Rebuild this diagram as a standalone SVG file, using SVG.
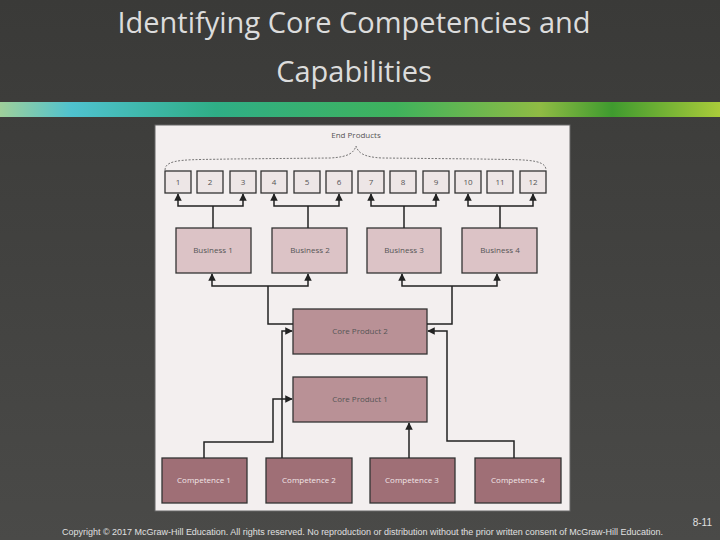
<svg xmlns="http://www.w3.org/2000/svg" width="720" height="540" viewBox="0 0 720 540">
<defs>
<linearGradient id="band" x1="0" x2="1" y1="0" y2="0">
<stop offset="0" stop-color="#9fcf9a"/><stop offset="0.1" stop-color="#4fc2cf"/><stop offset="0.3" stop-color="#2fae86"/><stop offset="0.55" stop-color="#3fb25c"/><stop offset="0.75" stop-color="#8fbb44"/><stop offset="0.85" stop-color="#3f9a2f"/><stop offset="1" stop-color="#aacb3a"/>
</linearGradient>
<linearGradient id="bg" x1="0" x2="0" y1="0" y2="1"><stop offset="0" stop-color="#3a3a38"/><stop offset="1" stop-color="#4a4a48"/></linearGradient>
<marker id="ah" viewBox="0 0 10 10" refX="9" refY="5" markerWidth="5" markerHeight="5" orient="auto"><path d="M0,0 L10,5 L0,10 z" fill="#222"/></marker>
<style>
.ep{fill:#ede6e6;stroke:#333;stroke-width:1.3}
.bu{fill:#dcc3c6;stroke:#333;stroke-width:1.3}
.cp{fill:#b99196;stroke:#333;stroke-width:1.3}
.co{fill:#9f6f76;stroke:#333;stroke-width:1.3}
.t{font-family:"Open Sans","Liberation Sans",sans-serif;font-size:8px;fill:#555;text-anchor:middle}
.tw{font-family:"Open Sans","Liberation Sans",sans-serif;font-size:8px;fill:#f2e6e8;text-anchor:middle}
.c path{fill:none;stroke:#222;stroke-width:1.5}
.h{font-family:"Open Sans","Liberation Sans",sans-serif;font-size:29px;fill:#dcdcdc;text-anchor:middle}
</style>
</defs>
<rect width="720" height="540" fill="url(#bg)"/>
<rect x="0" y="102" width="720" height="15" fill="url(#band)"/>
<text x="354" y="33" class="h">Identifying Core Competencies and</text>
<text x="354" y="82" class="h">Capabilities</text>
<rect x="155" y="125" width="415" height="386" fill="#f3efef" stroke="#666"/>
<text x="356" y="138" class="t">End Products</text>
<path d="M165,170 C165,158 190,160 230,159 L330,158 C350,157 354,152 356,146 C358,152 362,157 382,158 L480,159 C520,160 546,158 546,170" fill="none" stroke="#555" stroke-width="0.8" stroke-dasharray="2,1.5"/>
<g id="endproducts">
<g id="ep1"><rect class="ep" x="165" y="171" width="26" height="22"/><text class="t" x="178" y="185">1</text></g>
<g id="ep2"><rect class="ep" x="197" y="171" width="26" height="22"/><text class="t" x="210" y="185">2</text></g>
<g id="ep3"><rect class="ep" x="230" y="171" width="26" height="22"/><text class="t" x="243" y="185">3</text></g>
<g id="ep4"><rect class="ep" x="261" y="171" width="26" height="22"/><text class="t" x="274" y="185">4</text></g>
<g id="ep5"><rect class="ep" x="294" y="171" width="26" height="22"/><text class="t" x="307" y="185">5</text></g>
<g id="ep6"><rect class="ep" x="326" y="171" width="26" height="22"/><text class="t" x="339" y="185">6</text></g>
<g id="ep7"><rect class="ep" x="358" y="171" width="26" height="22"/><text class="t" x="371" y="185">7</text></g>
<g id="ep8"><rect class="ep" x="390" y="171" width="26" height="22"/><text class="t" x="403" y="185">8</text></g>
<g id="ep9"><rect class="ep" x="423" y="171" width="26" height="22"/><text class="t" x="436" y="185">9</text></g>
<g id="ep10"><rect class="ep" x="455" y="171" width="26" height="22"/><text class="t" x="468" y="185">10</text></g>
<g id="ep11"><rect class="ep" x="487" y="171" width="26" height="22"/><text class="t" x="500" y="185">11</text></g>
<g id="ep12"><rect class="ep" x="520" y="171" width="26" height="22"/><text class="t" x="533" y="185">12</text></g>
</g>
<g id="b1"><rect class="bu" x="176" y="228" width="75" height="45"/><text class="t" x="213" y="253">Business 1</text></g>
<g id="b2"><rect class="bu" x="272" y="228" width="75" height="45"/><text class="t" x="310" y="253">Business 2</text></g>
<g id="b3"><rect class="bu" x="367" y="228" width="74" height="45"/><text class="t" x="404" y="253">Business 3</text></g>
<g id="b4"><rect class="bu" x="462" y="228" width="75" height="45"/><text class="t" x="500" y="253">Business 4</text></g>
<g id="cp2"><rect class="cp" x="293" y="309" width="134" height="45"/><text class="t" x="360" y="334">Core Product 2</text></g>
<g id="cp1"><rect class="cp" x="293" y="377" width="134" height="45"/><text class="t" x="360" y="402">Core Product 1</text></g>
<g id="c1"><rect class="co" x="162" y="458" width="85" height="45"/><text class="tw" x="204" y="483">Competence 1</text></g>
<g id="c2"><rect class="co" x="266" y="458" width="86" height="45"/><text class="tw" x="309" y="483">Competence 2</text></g>
<g id="c3"><rect class="co" x="370" y="458" width="85" height="45"/><text class="tw" x="412" y="483">Competence 3</text></g>
<g id="c4"><rect class="co" x="475" y="458" width="86" height="45"/><text class="tw" x="518" y="483">Competence 4</text></g>
<g id="connectors" class="c">
<path d="M213,228 V206"/><path d="M213,206 H178 V194" marker-end="url(#ah)"/><path d="M213,206 H243 V194" marker-end="url(#ah)"/>
<path d="M308,228 V206"/><path d="M308,206 H274 V194" marker-end="url(#ah)"/><path d="M308,206 H339 V194" marker-end="url(#ah)"/>
<path d="M404,228 V206"/><path d="M404,206 H371 V194" marker-end="url(#ah)"/><path d="M404,206 H436 V194" marker-end="url(#ah)"/>
<path d="M500,228 V206"/><path d="M500,206 H468 V194" marker-end="url(#ah)"/><path d="M500,206 H533 V194" marker-end="url(#ah)"/>
<path d="M293,324 H268 V286"/><path d="M268,286 H212 V274" marker-end="url(#ah)"/><path d="M268,286 H308 V274" marker-end="url(#ah)"/>
<path d="M427,324 H452 V286"/><path d="M452,286 H402 V274" marker-end="url(#ah)"/><path d="M452,286 H497 V274" marker-end="url(#ah)"/>
<path d="M204,458 V442 H273 V399 H292" marker-end="url(#ah)"/>
<path d="M282,458 V331 H292" stroke-width="1" marker-end="url(#ah)"/>
<path d="M409,458 V423" marker-end="url(#ah)"/>
<path d="M514,458 V441 H447 V331 H428" marker-end="url(#ah)"/>
</g>
<text x="62" y="535" font-family="'Liberation Sans',sans-serif" font-size="8.3" fill="#e0e0e0" textLength="601" lengthAdjust="spacingAndGlyphs">Copyright © 2017 McGraw-Hill Education. All rights reserved. No reproduction or distribution without the prior written consent of McGraw-Hill Education.</text>
<text x="712" y="526" font-family="'Liberation Sans',sans-serif" font-size="10" fill="#e0e0e0" text-anchor="end">8-11</text>
</svg>
